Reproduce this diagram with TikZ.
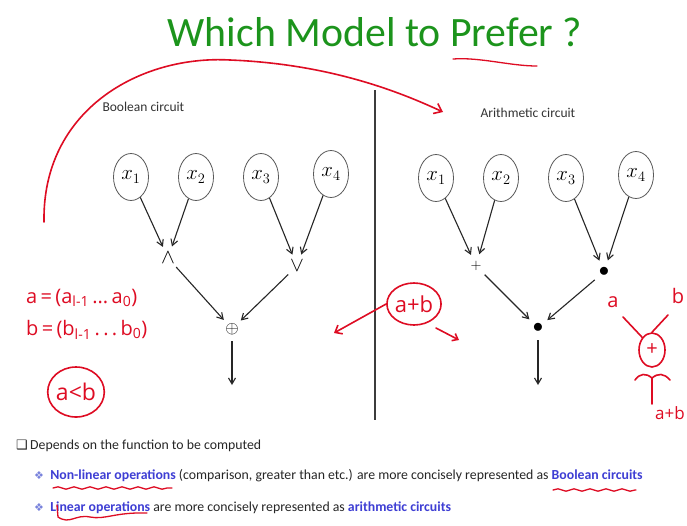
\documentclass[tikz,border=0pt]{standalone}
\usepackage{fontspec}
\setmainfont{Carlito}
\newfontfamily\symfont{DejaVu Sans}
\newfontfamily\handfont{Open Sans}
\usetikzlibrary{shapes.geometric,arrows.meta,decorations.pathmorphing}

\definecolor{titlegreen}{RGB}{28,148,28}
\definecolor{pen}{RGB}{222,12,35}
\definecolor{linkblue}{RGB}{62,62,212}
\definecolor{diamondblue}{RGB}{120,130,220}
\definecolor{rulegray}{RGB}{60,60,60}
\newcommand\keyterm[1]{\textcolor{linkblue}{\bfseries #1}}

\begin{document}
\begin{tikzpicture}[x=1pt,y=-1pt,
  var/.style={ellipse,draw=black!65,line width=0.8pt,minimum width=35pt,
    minimum height=47pt,inner sep=0pt,font=\fontsize{20}{20}\selectfont},
  gate/.style={circle,inner sep=0pt,minimum size=24pt,font=\fontsize{20}{20}\selectfont},
  arr/.style={-{Straight Barb[length=6pt,width=7pt]},line width=1.1pt,black!85},
  pen/.style={draw=pen,line width=1.6pt,line cap=round,line join=round},
  pentext/.style={text=pen,font=\handfont\fontsize{20}{20}\selectfont,inner sep=0pt},
  heading/.style={font=\fontsize{13.5}{15}\selectfont,text=black!80,anchor=west},
  bodytext/.style={font=\fontsize{13.8}{17}\selectfont,text=black!85,anchor=west,inner sep=0pt}]
\useasboundingbox[fill=white] (0,0) rectangle (687,525);

% title
\node[font=\fontsize{41.8}{46}\selectfont,text=titlegreen] (title) at (375,32) {Which Model to Prefer ?};

% divider
\coordinate (divtop) at (375,90);
\coordinate (divbot) at (375,420);
\draw[rulegray,line width=1.2pt] (divtop) -- (divbot);

% Boolean circuit
\node[heading] (bhead) at (99,107) {Boolean circuit};
\node[var] (b1) at (131,177) {$x_1$};
\node[var] (b2) at (196,177) {$x_2$};
\node[var] (b3) at (261,177) {$x_3$};
\node[var] (b4) at (331,174) {$x_4$};
\node[gate] (band) at (168,258) {$\wedge$};
\node[gate] (bor)  at (297,266) {$\vee$};
\node[gate,font=\fontsize{17}{17}\selectfont] (bxor) at (232,329) {$\oplus$};
\coordinate (bout) at (232,385);
\draw[arr] (b1) -- (band);
\draw[arr] (b2) -- (band);
\draw[arr] (b3) -- (bor);
\draw[arr] (b4) -- (bor);
\draw[arr] (band) -- (bxor);
\draw[arr] (bor) -- (bxor);
\draw[arr] (bxor) -- (bout);

% Arithmetic circuit
\node[heading] (ahead) at (477,113) {Arithmetic circuit};
\node[var] (a1) at (436,178) {$x_1$};
\node[var] (a2) at (501,178) {$x_2$};
\node[var] (a3) at (566,178) {$x_3$};
\node[var] (a4) at (636,175) {$x_4$};
\node[gate,font=\fontsize{15}{15}\selectfont] (aplus) at (476,266) {$+$};
\node[gate] (amul) at (604,272) {$\bullet$};
\node[gate] (aroot) at (538,328) {$\bullet$};
\coordinate (aout) at (538,385);
\draw[arr] (a1) -- (aplus);
\draw[arr] (a2) -- (aplus);
\draw[arr] (a3) -- (amul);
\draw[arr] (a4) -- (amul);
\draw[arr] (aplus) -- (aroot);
\draw[arr] (amul) -- (aroot);
\draw[arr] (aroot) -- (aout);

% bottom notes
\node[bodytext] (n1) at (16,446) {{\symfont\fontsize{13}{13}\selectfont ❑}\,Depends on the function to be computed};
\node[bodytext] (n2) at (34,476) {{\symfont\color{diamondblue}\fontsize{11}{13}\selectfont ❖}\ \ \keyterm{Non-linear operations} (comparison, greater than etc.) are more concisely represented as \keyterm{Boolean circuits}};
\node[bodytext] (n3) at (34,508) {{\symfont\color{diamondblue}\fontsize{11}{13}\selectfont ❖}\ \ \keyterm{Linear operations} are more concisely represented as \keyterm{arithmetic circuits}};

% pen annotations
\draw[pen,line width=1.3pt] (453,59) .. controls (480,57) and (510,66) .. (537,66);
\draw[pen,-{Straight Barb[length=7pt,width=11pt]}] (44,222) .. controls (42,110) and (140,55) .. (230,60)
  .. controls (330,64) and (400,92) .. (443,112);

\node[pentext,anchor=west] (adef) at (26,298) {a\,=\,(a\textsubscript{l-1}\,...\,a\textsubscript{0})};
\node[pentext,anchor=west] (bdef) at (26,330) {b\,=\,(b\textsubscript{l-1}\,.\,.\,.\,b\textsubscript{0})};
\node[pentext,ellipse,draw=pen,line width=1.6pt,minimum width=44pt,minimum height=50pt,
  font=\handfont\fontsize{23}{23}\selectfont] (altb) at (76,392) {a<b};

\node[pentext,ellipse,draw=pen,line width=1.6pt,minimum width=52pt,minimum height=42pt,
  font=\handfont\fontsize{22}{22}\selectfont] (apb) at (414,304) {a+b};
\coordinate (apbleft) at (334,333);
\coordinate (apbright) at (459,340);
\draw[pen,-{Straight Barb[length=6pt,width=10pt]}] (apb.west) -- (apbleft);
\draw[pen,-{Straight Barb[length=5pt,width=8pt]}] (436,328) -- (apbright);

\node[pentext] (ra) at (613,302) {a};
\node[pentext] (rb) at (678,296) {b};
\node[pentext,ellipse,draw=pen,line width=1.6pt,minimum width=26pt,minimum height=34pt] (radd) at (652,350) {+};
\draw[pen] (623,317) -- (radd.north west);
\draw[pen] (668,315) -- (radd.north);
\draw[pen] (635,380) .. controls (640,373) and (646,373) .. (652,378)
  .. controls (658,373) and (664,373) .. (670,380);
\coordinate (rdown) at (652,404);
\draw[pen] (652,378) -- (rdown);
\node[pentext,anchor=south west,font=\handfont\fontsize{17}{17}\selectfont] (rsum) at (655,420) {a+b};

% underlines in the notes
\draw[pen,line width=1.3pt,decorate,decoration={snake,amplitude=1.2pt,segment length=16pt}] (53,488) -- (172,488);
\draw[pen,line width=1.3pt,decorate,decoration={snake,amplitude=1.2pt,segment length=16pt}] (553,490) -- (636,490);
\draw[pen,line width=1.3pt] (57,505) -- (58,517) .. controls (70,525) and (75,514) .. (90,517)
  .. controls (105,520) and (115,512) .. (147,513);
\end{tikzpicture}
\end{document}
